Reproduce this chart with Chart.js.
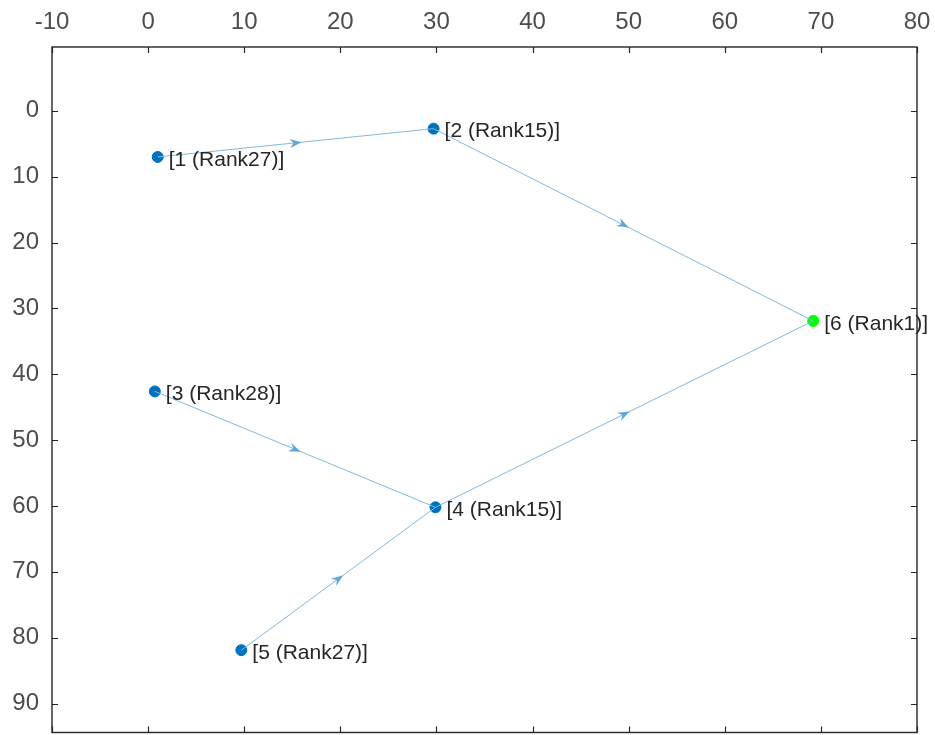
<!DOCTYPE html>
<html>
<head>
<meta charset="utf-8">
<script src="https://cdn.jsdelivr.net/npm/chart.js@4"></script>
<style>
  html, body { margin: 0; padding: 0; background: #fff; overflow: hidden; }
  #wrap { width: 935px; height: 739px; }
</style>
</head>
<body>
<div id="wrap"><canvas id="graphChart"></canvas></div>
<script>
// node positions and labels
const nodeX = [1, 29.7, 0.7, 29.9, 9.7, 69.2];
const nodeY = [7.0, 2.7, 42.6, 60.2, 81.9, 31.9];
const nodeLabels = ['[1 (Rank27)]', '[2 (Rank15)]', '[3 (Rank28)]', '[4 (Rank15)]', '[5 (Rank27)]', '[6 (Rank1)]'];
const nodeColors = ['#0072bd', '#0072bd', '#0072bd', '#0072bd', '#0072bd', '#00ff00'];

// directed edges (index into node arrays)
const edgeFrom = [0, 1, 2, 3, 4];
const edgeTo = [1, 5, 3, 5, 3];

const xTicks = [-10, 0, 10, 20, 30, 40, 50, 60, 70, 80];
const yTicks = [0, 10, 20, 30, 40, 50, 60, 70, 80, 90];

const edgeColor = '#80b9de';
const fontFam = '"Liberation Sans", Arial, sans-serif';

const edgeSets = edgeFrom.map((f, i) => ({
    type: 'line',
    data: [{ x: nodeX[f], y: nodeY[f] }, { x: nodeX[edgeTo[i]], y: nodeY[edgeTo[i]] }],
    borderColor: edgeColor, borderWidth: 1, pointRadius: 0, fill: false, tension: 0
}));

const frameAndArrows = {
    id: 'frameAndArrows',
    afterDatasetsDraw(chart) {
        const ctx = chart.ctx;
        const xs = chart.scales.x, ys = chart.scales.y;
        // arrowheads at edge midpoints
        edgeFrom.forEach((f, i) => {
            const t = edgeTo[i];
            const x1 = xs.getPixelForValue(nodeX[f]), y1 = ys.getPixelForValue(nodeY[f]);
            const x2 = xs.getPixelForValue(nodeX[t]), y2 = ys.getPixelForValue(nodeY[t]);
            const mx = (x1 + x2) / 2, my = (y1 + y2) / 2;
            const a = Math.atan2(y2 - y1, x2 - x1);
            ctx.save();
            ctx.translate(mx + 6 * Math.cos(a), my + 6 * Math.sin(a));
            ctx.rotate(a);
            ctx.fillStyle = '#5fa6d8';
            ctx.beginPath();
            ctx.moveTo(0, 0);
            ctx.lineTo(-12, -4.5);
            ctx.lineTo(-8, 0);
            ctx.lineTo(-12, 4.5);
            ctx.closePath();
            ctx.fill();
            ctx.restore();
        });
    },
    afterDraw(chart) {
        const ctx = chart.ctx;
        const xs = chart.scales.x, ys = chart.scales.y;
        const a = chart.chartArea;
        // node labels
        ctx.save();
        ctx.font = '21px ' + fontFam;
        ctx.fillStyle = '#262626';
        ctx.textBaseline = 'middle';
        nodeLabels.forEach((lab, i) => {
            ctx.fillText(lab, xs.getPixelForValue(nodeX[i]) + 11, ys.getPixelForValue(nodeY[i]) + 3);
        });
        // box and inward ticks
        ctx.strokeStyle = '#262626';
        ctx.lineWidth = 1.4;
        ctx.strokeRect(a.left, a.top, a.right - a.left, a.bottom - a.top);
        ctx.lineWidth = 1.2;
        ctx.beginPath();
        xTicks.forEach(v => {
            const px = Math.round(xs.getPixelForValue(v)) + 0.5;
            ctx.moveTo(px, a.top); ctx.lineTo(px, a.top + 6);
            ctx.moveTo(px, a.bottom); ctx.lineTo(px, a.bottom - 6);
        });
        yTicks.forEach(v => {
            const py = Math.round(ys.getPixelForValue(v)) + 0.5;
            ctx.moveTo(a.left, py); ctx.lineTo(a.left + 6, py);
            ctx.moveTo(a.right, py); ctx.lineTo(a.right - 6, py);
        });
        ctx.stroke();
        ctx.restore();
    }
};

new Chart(document.getElementById('graphChart').getContext('2d'), {
    type: 'scatter',
    data: {
        datasets: [...edgeSets, {
            type: 'scatter',
            data: nodeX.map((x, i) => ({ x: x, y: nodeY[i] })),
            pointBackgroundColor: nodeColors,
            pointBorderColor: nodeColors,
            pointStyle: 'circle',
            pointRadius: 5.5,
            pointBorderWidth: 1
        }]
    },
    plugins: [frameAndArrows],
    options: {
        responsive: true,
        maintainAspectRatio: false,
        animation: false,
        layout: { padding: { left: 0, right: 18, top: 0, bottom: 0 } },
        plugins: { legend: { display: false }, tooltip: { enabled: false } },
        scales: {
            x: {
                type: 'linear', position: 'top', min: -10, max: 80,
                afterBuildTicks: s => { s.ticks = xTicks.map(v => ({ value: v })); },
                afterFit: s => { s.height = 47; s.paddingLeft = 0; s.paddingRight = 0; },
                grid: { display: false, drawTicks: false },
                border: { display: false },
                ticks: { color: '#4d4d4d', padding: 10, maxRotation: 0,
                         font: { family: fontFam, size: 24 } }
            },
            y: {
                type: 'linear', reverse: true, min: -9.7, max: 94.4,
                afterBuildTicks: s => { s.ticks = yTicks.map(v => ({ value: v })); },
                afterFit: s => { s.width = 52; s.paddingTop = 0; s.paddingBottom = 0; },
                grid: { display: false, drawTicks: false },
                border: { display: false },
                ticks: { color: '#4d4d4d', padding: 13,
                         font: { family: fontFam, size: 24 } }
            }
        }
    }
});
</script>
</body>
</html>
